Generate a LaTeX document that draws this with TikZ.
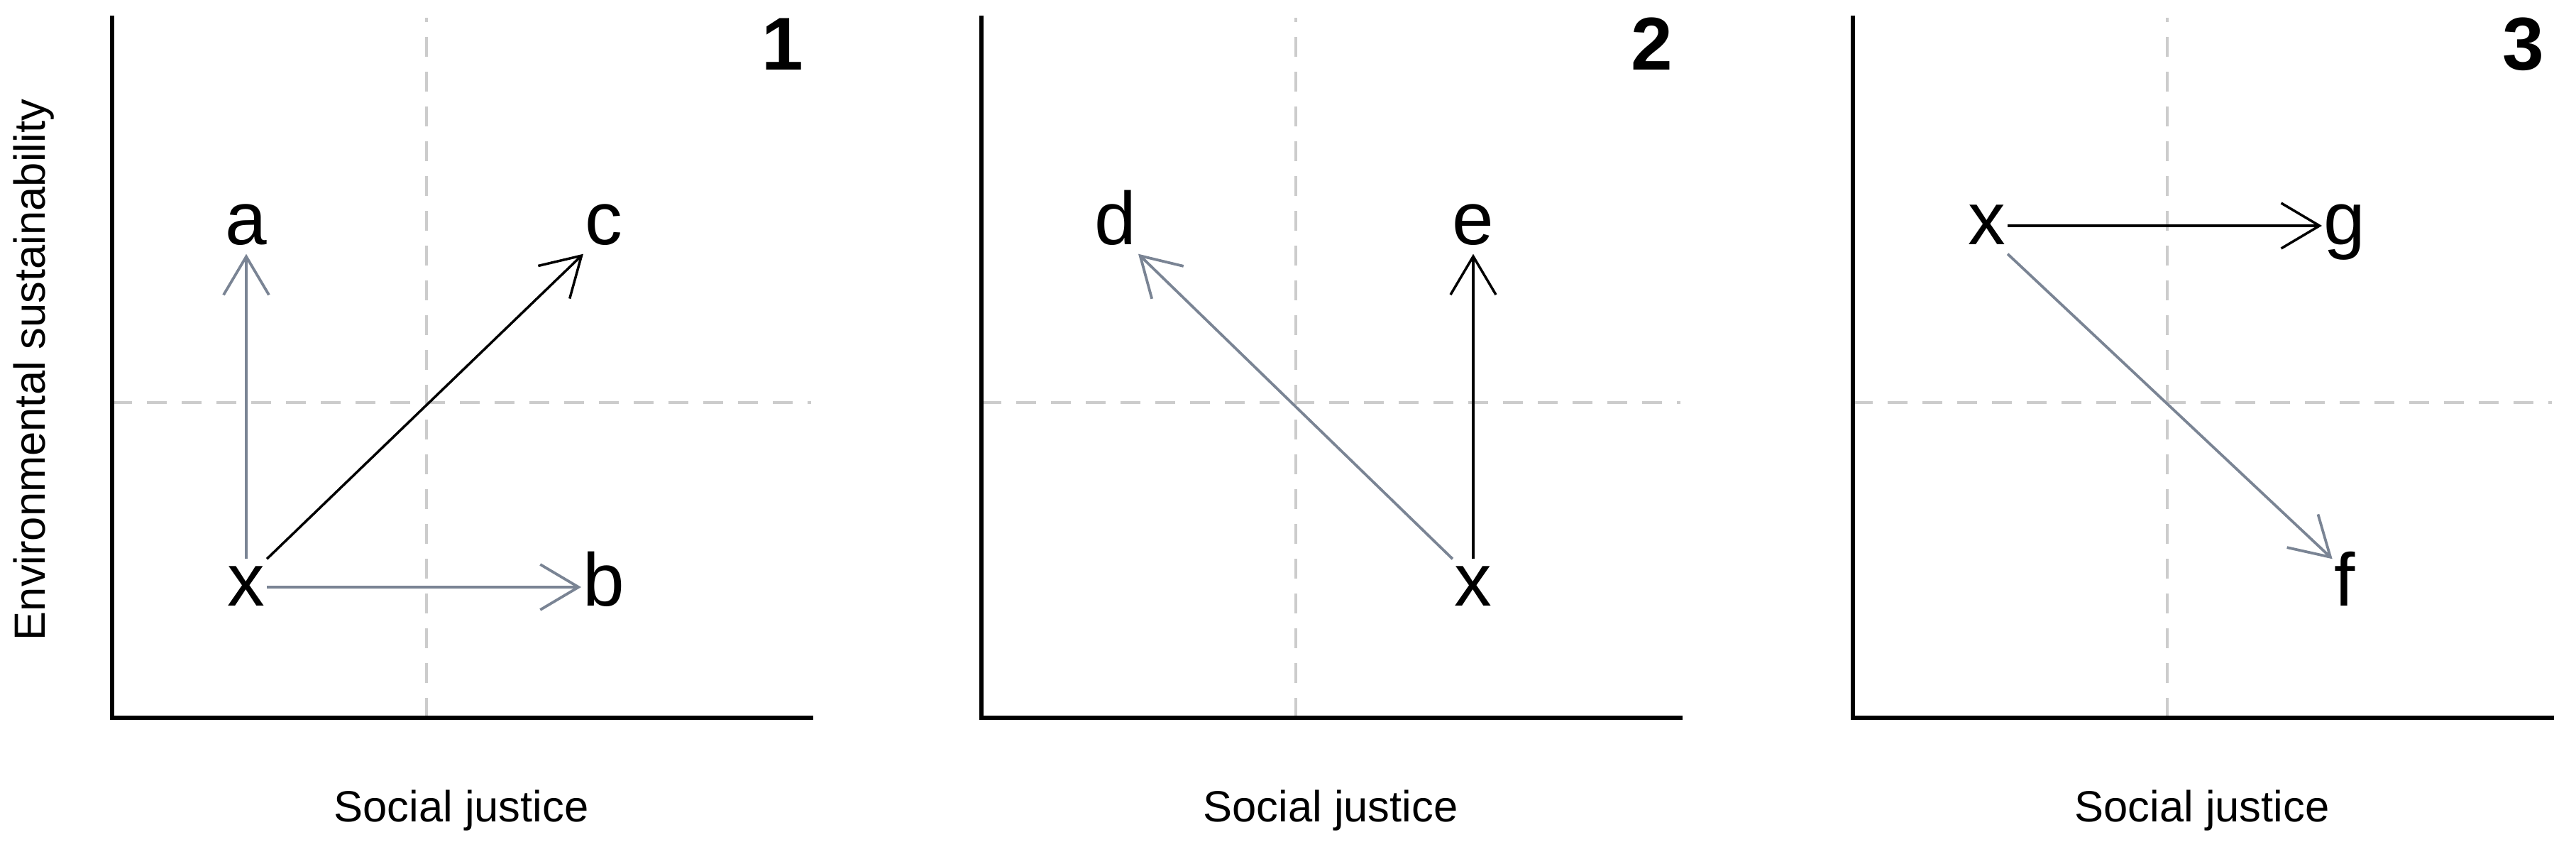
\documentclass[tikz,border=0pt]{standalone}
\usepackage{fontspec}
\setmainfont{Liberation Sans}
\usetikzlibrary{positioning,arrows.meta}
\definecolor{arrowgrey}{HTML}{7A8494}
\definecolor{dashgrey}{HTML}{CCCCCC}
\tikzset{
  axisline/.style={line width=0.065cm, line cap=rect},
  guide/.style={dashgrey, line width=0.04cm, dash pattern=on 0.28cm off 0.21cm},
  letter/.style={font=\fontsize{30}{36}\selectfont, inner xsep=0.02cm, inner ysep=0.12cm, text height=0.54cm, text depth=0pt},
  greyarrow/.style={arrowgrey, line width=0.038cm, -{Straight Barb[length=0.54cm,width=0.64cm]}},
  blackarrow/.style={black, line width=0.035cm, -{Straight Barb[length=0.54cm,width=0.64cm]}},
  panelno/.style={font=\fontsize{30}{36}\selectfont\bfseries, inner sep=0pt},
  axislabel/.style={font=\fontsize{17.5}{21}\selectfont, inner sep=0pt}
}

\begin{document}
\begin{tikzpicture}[on grid, node distance=5.09cm and 5.04cm]
\useasboundingbox (0,0) rectangle (36.30,11.86);

\begin{scope}[xshift=1.58cm, yshift=1.75cm]
\draw[guide] (4.43,0) -- (4.43,9.86);
\draw[guide] (0,4.44) -- (9.85,4.44);
\draw[axisline] (0,9.86) -- (0,0) -- (9.85,0);
\node[panelno] (n1) at (9.45,9.49) {1};
\node[axislabel, anchor=base] (sj1) at (4.92,-1.46) {Social justice};
\node[axislabel, rotate=90] (es) at (-1.10,4.90) {Environmental sustainability};
\node[letter] (x1) at (1.89,1.84) {x};
\node[letter, above=of x1] (a1) {a};
\node[letter, right=of x1] (b1) {b};
\node[letter, above right=of x1] (c1) {c};
\draw[greyarrow] (x1) -- (a1);
\draw[greyarrow] (x1) -- (b1);
\draw[blackarrow] (x1.north east) -- (c1.south west);
\end{scope}

\begin{scope}[xshift=13.83cm, yshift=1.75cm]
\draw[guide] (4.43,0) -- (4.43,9.86);
\draw[guide] (0,4.44) -- (9.85,4.44);
\draw[axisline] (0,9.86) -- (0,0) -- (9.85,0);
\node[panelno] (n2) at (9.45,9.49) {2};
\node[axislabel, anchor=base] (sj2) at (4.92,-1.46) {Social justice};
\node[letter] (x2) at (6.93,1.84) {x};
\node[letter, above=of x2] (e2) {e};
\node[letter, above left=of x2] (d2) {d};
\draw[blackarrow] (x2) -- (e2);
\draw[greyarrow] (x2.north west) -- (d2.south east);
\end{scope}

\begin{scope}[xshift=26.11cm, yshift=1.75cm]
\draw[guide] (4.43,0) -- (4.43,9.86);
\draw[guide] (0,4.44) -- (9.85,4.44);
\draw[axisline] (0,9.86) -- (0,0) -- (9.85,0);
\node[panelno] (n3) at (9.45,9.49) {3};
\node[axislabel, anchor=base] (sj3) at (4.92,-1.46) {Social justice};
\node[letter] (x3) at (1.89,6.93) {x};
\node[letter, right=of x3] (g3) {g};
\node[letter, below right=of x3] (f3) {f};
\draw[blackarrow] (x3) -- (g3);
\draw[greyarrow] (x3.south east) -- (f3.north west);
\end{scope}
\end{tikzpicture}
\end{document}
